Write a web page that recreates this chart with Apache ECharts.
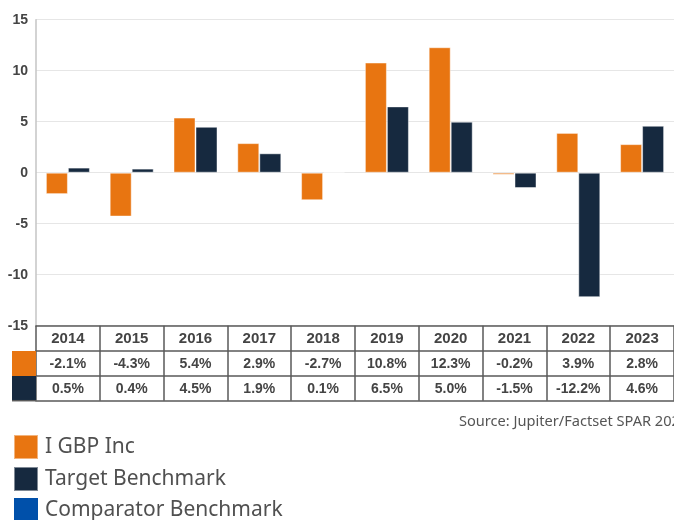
<!DOCTYPE html>
<html>
<head>
<meta charset="utf-8">
<script src="https://cdn.jsdelivr.net/npm/echarts@6/dist/echarts.min.js"></script>
<style>
html,body{margin:0;padding:0;background:#fff;}
#chart{width:674px;height:520px;}
</style>
</head>
<body>
<div id="chart"></div>
<script>
var categories = ['2014','2015','2016','2017','2018','2019','2020','2021','2022','2023'];
var fundValues = [-2.1,-4.3,5.4,2.9,-2.7,10.8,12.3,-0.2,3.9,2.8];
var targetValues = [0.5,0.4,4.5,1.9,0.1,6.5,5.0,-1.5,-12.2,4.6];
var seriesNames = ['I GBP Inc','Target Benchmark','Comparator Benchmark'];
var sourceText = 'Source: Jupiter/Factset SPAR 2024';

var ORANGE = '#E87511', NAVY = '#16293F', BLUE = '#0050AA';
var TABLE_LINE = '#5a5a5a';
function pct(v){ return v.toFixed(1) + '%'; }

var chart = echarts.init(document.getElementById('chart'), null, {renderer:'canvas'});

var ROW = 25;
var extraAxis = function(k){
  return {
    type:'category', data:categories, gridIndex:0, position:'bottom', offset:ROW*k,
    axisLine:{show:true, onZero:false, lineStyle:{color:TABLE_LINE, width:1.5}},
    axisTick:{show:false}, axisLabel:{show:false}, splitLine:{show:false}
  };
};

var option = {
  backgroundColor:'#fff',
  animation:false,
  title:{
    text:sourceText, left:459, top:414, padding:0,
    textStyle:{fontSize:14.6, fontWeight:'normal', color:'#555', fontFamily:'Noto Sans'}
  },
  legend:{
    orient:'vertical', left:13, top:434, padding:0, height:100,
    itemWidth:24, itemHeight:24, itemGap:6,
    icon:'rect',
    data:seriesNames,
    selectedMode:false,
    textStyle:{fontSize:21, color:'#505050', fontFamily:'Noto Sans', padding:[0,0,0,2]}
  },
  grid:{left:36, top:19.7, width:644, height:306},
  xAxis:[
    {
      type:'category', data:categories, position:'bottom',
      axisLine:{show:true, onZero:false, lineStyle:{color:TABLE_LINE, width:1.5}},
      axisTick:{show:true, inside:false, length:ROW*3, alignWithLabel:false, lineStyle:{color:TABLE_LINE, width:1.5}},
      axisLabel:{
        show:true, margin:1, interval:0,
        formatter:function(v, i){
          return '{y|' + v + '}\n{a|' + pct(fundValues[i]) + '}\n{b|' + pct(targetValues[i]) + '}';
        },
        rich:{
          y:{fontSize:15, fontWeight:'bold', color:'#444', lineHeight:ROW, fontFamily:'Liberation Sans, Arial'},
          a:{fontSize:14, fontWeight:'bold', color:'#444', lineHeight:ROW, fontFamily:'Liberation Sans, Arial'},
          b:{fontSize:14, fontWeight:'bold', color:'#444', lineHeight:ROW, fontFamily:'Liberation Sans, Arial'}
        }
      },
      splitLine:{show:false}
    },
    extraAxis(1), extraAxis(2), extraAxis(3)
  ],
  yAxis:{
    type:'value', min:-15, max:15, interval:5,
    axisLine:{show:true, lineStyle:{color:'#c4c4c4', width:1.5}},
    axisTick:{show:false},
    axisLabel:{fontSize:14, fontWeight:'bold', color:'#444', margin:8, fontFamily:'Liberation Sans, Arial'},
    splitLine:{show:true, lineStyle:{color:'#e6e6e6', width:1.2}}
  },
  graphic:[
    {type:'rect', shape:{x:12, y:351, width:24, height:25}, style:{fill:ORANGE}, z:10},
    {type:'rect', shape:{x:12, y:376, width:24, height:25}, style:{fill:NAVY}, z:10},
    {type:'line', shape:{x1:12, y1:400.7, x2:36, y2:400.7}, style:{stroke:TABLE_LINE, lineWidth:1.5}, z:11}
  ],
  series:[
    {
      name:seriesNames[0], type:'bar', data:fundValues, barWidth:22, barGap:'0%',
      itemStyle:{color:ORANGE, borderColor:'rgba(255,255,255,0.45)', borderWidth:1}
    },
    {
      name:seriesNames[1], type:'bar', data:targetValues, barWidth:22, barGap:'0%',
      itemStyle:{color:NAVY, borderColor:'rgba(255,255,255,0.45)', borderWidth:1}
    },
    {
      name:seriesNames[2], type:'line', data:[], itemStyle:{color:BLUE}, lineStyle:{color:BLUE}
    }
  ]
};
chart.setOption(option);
</script>
</body>
</html>
